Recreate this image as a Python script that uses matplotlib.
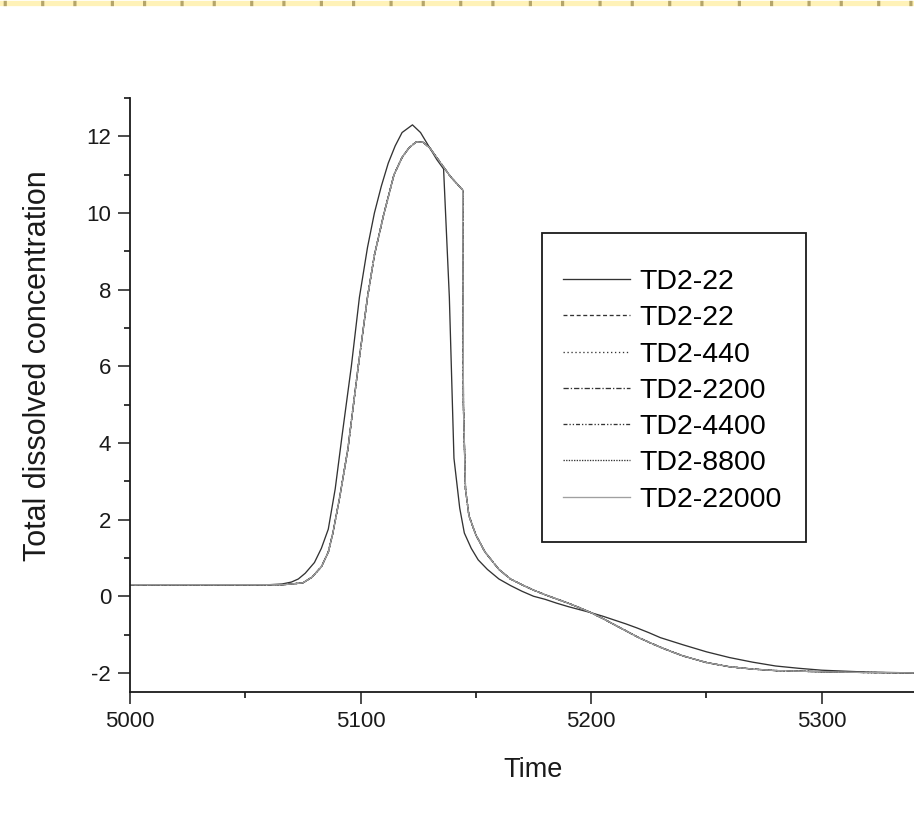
import matplotlib

matplotlib.use("Agg")
import matplotlib.pyplot as plt
from matplotlib.lines import Line2D
from matplotlib.patches import Rectangle
from matplotlib.ticker import MultipleLocator

plt.rcParams["font.family"] = ["Liberation Sans", "DejaVu Sans"]
plt.rcParams["axes.unicode_minus"] = False

# first TD2-22 run (solid)
t_ref = [5000, 5060, 5066, 5070, 5073, 5076, 5080, 5083, 5086, 5089, 5092, 5096,
         5099.5, 5103, 5106, 5109, 5112, 5115, 5118, 5122.5, 5126, 5130, 5133, 5136,
         5138.5, 5140.5, 5143, 5145, 5148, 5151, 5155, 5160, 5165, 5170, 5175, 5180,
         5185, 5190, 5195, 5200, 5205, 5210, 5215, 5220, 5225, 5230, 5240, 5250,
         5260, 5270, 5280, 5290, 5300, 5320, 5340]
c_ref = [0.3, 0.3, 0.32, 0.37, 0.45, 0.6, 0.88, 1.25, 1.75, 2.8, 4.2, 6.0,
         7.8, 9.1, 10.0, 10.7, 11.3, 11.75, 12.1, 12.3, 12.1, 11.7, 11.4, 11.15,
         7.8, 3.6, 2.3, 1.65, 1.25, 0.95, 0.7, 0.45, 0.28, 0.13, 0.0, -0.08,
         -0.18, -0.27, -0.35, -0.43, -0.52, -0.62, -0.72, -0.83, -0.95, -1.08, -1.27, -1.45,
         -1.6, -1.72, -1.82, -1.88, -1.93, -1.98, -2.0]

# the other runs lie on top of each other
t_grp = [5000, 5066, 5070, 5075, 5079, 5083, 5086, 5088, 5091, 5094.5, 5099, 5103,
         5106, 5110, 5114.5, 5118, 5121, 5124, 5127, 5130, 5133, 5136, 5139, 5142,
         5144.3, 5144.6, 5145.5, 5147, 5150, 5154, 5160, 5165, 5170, 5175, 5180, 5185,
         5190, 5195, 5200, 5205, 5210, 5215, 5220, 5225, 5230, 5235, 5240, 5250,
         5260, 5270, 5280, 5300, 5320, 5340]
c_grp = [0.3, 0.3, 0.32, 0.35, 0.5, 0.77, 1.15, 1.65, 2.6, 3.84, 6.0, 7.8,
         8.9, 9.95, 11.0, 11.45, 11.7, 11.85, 11.85, 11.7, 11.45, 11.2, 10.95, 10.75,
         10.6, 5.0, 2.8, 2.1, 1.6, 1.15, 0.7, 0.45, 0.3, 0.16, 0.04, -0.07,
         -0.18, -0.3, -0.43, -0.58, -0.74, -0.9, -1.06, -1.2, -1.33, -1.45, -1.56, -1.73,
         -1.84, -1.9, -1.94, -1.97, -1.99, -2.0]

labels = ["TD2-22", "TD2-22", "TD2-440", "TD2-2200", "TD2-4400", "TD2-8800", "TD2-22000"]
styles = ["-", (0, (3, 2)), (0, (1, 2)), (0, (4, 1.5, 1, 1.5)),
          (0, (3, 1.5, 1, 1.5, 1, 1.5)), (0, (1, 1)), "-"]
colors = ["#333333"] * 6 + ["#a0a0a0"]

fig = plt.figure(figsize=(9.14, 8.19), dpi=100)
ax = fig.add_axes([0.1422, 0.155, 0.8578, 0.7253])

for i, (lab, ls, col) in enumerate(zip(labels, styles, colors)):
    if i == 0:
        ax.plot(t_ref, c_ref, ls=ls, color=col, lw=0.95, label=lab)
    else:
        ax.plot(t_grp, c_grp, ls=ls, color=col, lw=0.95, label=lab)

ax.set_xlim(5000, 5340)
ax.set_ylim(-2.5, 13)
ax.xaxis.set_major_locator(MultipleLocator(100))
ax.xaxis.set_minor_locator(MultipleLocator(50))
ax.yaxis.set_major_locator(MultipleLocator(2))
ax.yaxis.set_minor_locator(MultipleLocator(1))
ax.tick_params(which="major", direction="out", length=8.5, width=1.1,
               labelsize=16, pad=5, colors="#1a1a1a")
ax.tick_params(which="minor", direction="out", length=4.5, width=1.1)
for side in ("top", "right"):
    ax.spines[side].set_visible(False)
for side in ("left", "bottom"):
    ax.spines[side].set_linewidth(1.3)
    ax.spines[side].set_color("#1a1a1a")

ax.set_xlabel("Time", fontsize=19.5, color="#1a1a1a")
ax.set_ylabel("Total dissolved concentration", fontsize=22, color="#1a1a1a")
ax.xaxis.set_label_coords(0.514, -0.11)
ax.yaxis.set_label_coords(-0.098, 0.549)

ax.add_patch(Rectangle((0.5255, 0.2525), 0.3365, 0.5202, transform=ax.transAxes,
                       fill=False, lw=1.3, ec="#1a1a1a", zorder=5))
ax.legend(loc="upper left", bbox_to_anchor=(0.5523, 0.712), frameon=False,
          borderpad=0, borderaxespad=0, fontsize=20.5, handlelength=2.37,
          handletextpad=0.3, labelspacing=0.36)

# dashed yellow strip along the top edge
fig.add_artist(Line2D([0, 1], [0.9968, 0.9968], transform=fig.transFigure,
                      color="#fff2b8", lw=3.8))
fig.add_artist(Line2D([0, 1], [0.9968, 0.9968], transform=fig.transFigure,
                      color="#b5a56a", lw=3.8, ls=(-0.6, (0.6, 6.5, 0.6, 5.5))))

fig.savefig("out.png", dpi=100)
